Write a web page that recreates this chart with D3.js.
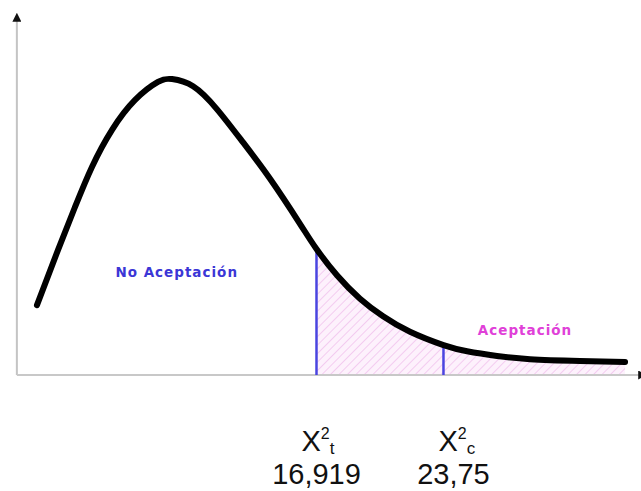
<!DOCTYPE html>
<html>
<head>
<meta charset="utf-8">
<script src="https://cdn.jsdelivr.net/npm/d3@7"></script>
<style>
	body { margin: 0; background: #fff; }
	svg { display: block; }
</style>
</head>
<body>
<div class="chart"></div>
<script>
const WIDTH = 641;
const HEIGHT = 491;

// curve (x in chi-square units, y in relative density)
const CURVE_X = [1.88, 3.01, 3.93, 4.84, 5.92, 7.16, 8.39, 9.15, 10.28, 11.57, 12.97, 14.42, 16.03, 16.919, 18.02, 19.26, 20.5, 21.95, 23.75, 25.02, 26.63, 28.41, 31.1, 33.52];
const CURVE_Y = [0.194, 0.347, 0.467, 0.578, 0.681, 0.764, 0.814, 0.822, 0.802, 0.738, 0.646, 0.545, 0.42, 0.35, 0.277, 0.212, 0.163, 0.12, 0.083, 0.066, 0.053, 0.044, 0.039, 0.036];

const CRITICAL = [16.919, 23.75];
const CRITICAL_LABELS = ['16,919', '23,75'];
const CRITICAL_SUB = ['t', 'c'];
const REGION_LABELS = ['No Aceptación', 'Aceptación'];

const curve = CURVE_X.map((x, i) => ({ x, y: CURVE_Y[i] }));

const x = d3.scaleLinear().domain([0, 34]).range([2, 634]);
const y = d3.scaleLinear().domain([0, 1]).range([375, 15]);

const svg = d3.select('.chart')
	.append('svg')
	.attr('width', WIDTH)
	.attr('height', HEIGHT);

const defs = svg.append('defs');

defs.append('pattern')
	.attr('id', 'hatch')
	.attr('patternUnits', 'userSpaceOnUse')
	.attr('width', 6)
	.attr('height', 6)
	.attr('patternTransform', 'rotate(45)')
	.call(p => p.append('rect').attr('width', 6).attr('height', 6).attr('fill', '#fdf1fc'))
	.append('line')
	.attr('x1', 0).attr('y1', 0)
	.attr('x2', 0).attr('y2', 6)
	.attr('stroke', '#f0c0ec')
	.attr('stroke-width', 1.5);

defs.append('clipPath')
	.attr('id', 'tail')
	.append('rect')
	.attr('x', x(CRITICAL[0]))
	.attr('y', 0)
	.attr('width', WIDTH - x(CRITICAL[0]))
	.attr('height', y(0));

defs.append('marker')
	.attr('id', 'arrow')
	.attr('viewBox', '0 0 10 10')
	.attr('refX', 2)
	.attr('refY', 5)
	.attr('markerWidth', 9)
	.attr('markerHeight', 9)
	.attr('markerUnits', 'userSpaceOnUse')
	.attr('orient', 'auto')
	.append('path')
	.attr('d', 'M0,0L10,5L0,10Z')
	.attr('fill', '#111');

const x0 = 0.8;
const yAxisX = x(x0);

// hatched acceptance area
const area = d3.area()
	.x(d => x(d.x))
	.y0(y(0))
	.y1(d => y(d.y))
	.curve(d3.curveNatural);

svg.append('path')
	.datum(curve)
	.attr('d', area)
	.attr('clip-path', 'url(#tail)')
	.attr('fill', 'url(#hatch)');

// axes
svg.append('line')
	.attr('x1', yAxisX).attr('y1', y(0))
	.attr('x2', yAxisX).attr('y2', 20)
	.attr('stroke', '#c4c4c4')
	.attr('stroke-width', 2)
	.attr('marker-end', 'url(#arrow)');

svg.append('line')
	.attr('x1', yAxisX).attr('y1', y(0))
	.attr('x2', 640).attr('y2', y(0))
	.attr('stroke', '#c8c8c8')
	.attr('stroke-width', 2)
	.attr('marker-end', 'url(#arrow)');

// critical value lines
svg.selectAll('.crit')
	.data(CRITICAL)
	.enter()
	.append('line')
	.attr('class', 'crit')
	.attr('x1', d => x(d))
	.attr('x2', d => x(d))
	.attr('y1', y(0))
	.attr('y2', d => y(curve.find(c => c.x === d).y))
	.attr('stroke', '#4a44e0')
	.attr('stroke-width', 2.5);

// curve
const line = d3.line()
	.x(d => x(d.x))
	.y(d => y(d.y))
	.curve(d3.curveNatural);

svg.append('path')
	.datum(curve)
	.attr('d', line)
	.attr('fill', 'none')
	.attr('stroke', '#000')
	.attr('stroke-width', 6)
	.attr('stroke-linecap', 'round');

// region labels
svg.append('text')
	.attr('x', x(6.1))
	.attr('y', y(0.272))
	.attr('font-family', 'DejaVu Sans, sans-serif')
	.attr('font-weight', 'bold')
	.attr('font-size', 13.5)
	.attr('letter-spacing', 1)
	.attr('fill', '#3b36d6')
	.text(REGION_LABELS[0]);

svg.append('text')
	.attr('x', x(25.6))
	.attr('y', y(0.111))
	.attr('font-family', 'DejaVu Sans, sans-serif')
	.attr('font-weight', 'bold')
	.attr('font-size', 13.5)
	.attr('letter-spacing', 1)
	.attr('fill', '#e040d8')
	.text(REGION_LABELS[1]);

// bottom labels
const OFFSETS = [0, 10];
const labels = svg.selectAll('.crit-label')
	.data(CRITICAL)
	.enter()
	.append('g')
	.attr('class', 'crit-label')
	.attr('font-family', 'Liberation Sans, Arial, sans-serif')
	.attr('fill', '#111');

labels.append('text')
	.attr('x', (d, i) => x(d) + OFFSETS[i])
	.attr('y', 484)
	.attr('text-anchor', 'middle')
	.attr('font-size', 29)
	.text((d, i) => CRITICAL_LABELS[i]);

const sym = labels.append('text')
	.attr('x', (d, i) => x(d) + OFFSETS[i] - 15)
	.attr('y', 451)
	.attr('font-size', 29);

sym.append('tspan').text('X');
sym.append('tspan')
	.attr('font-size', 16)
	.attr('dy', -12)
	.text('2');
sym.append('tspan')
	.attr('font-size', 17)
	.attr('dy', 15)
	.text((d, i) => CRITICAL_SUB[i]);
</script>
</body>
</html>
